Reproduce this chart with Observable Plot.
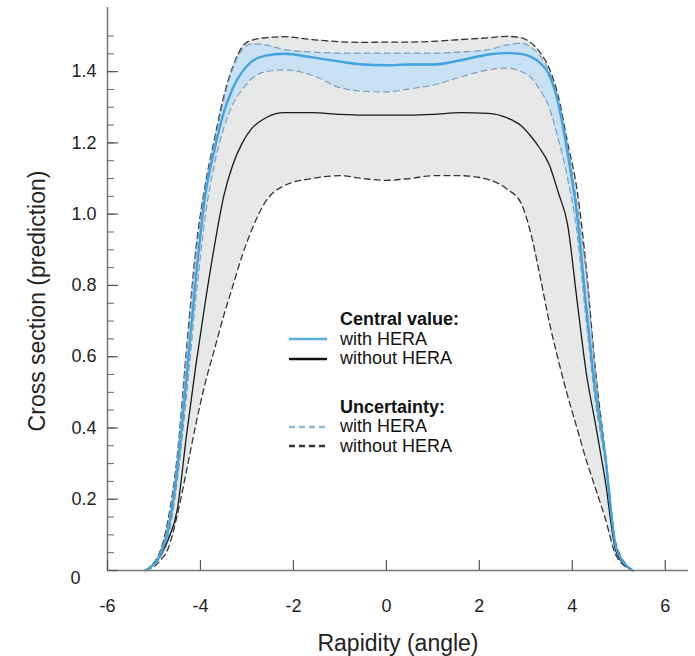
<!DOCTYPE html>
<html><head><meta charset="utf-8">
<script src="https://cdn.jsdelivr.net/npm/d3@7"></script>
<script src="https://cdn.jsdelivr.net/npm/@observablehq/plot@0.6"></script>
<style>
body{margin:0;background:#fff;font-family:"Liberation Sans",Arial,Helvetica,sans-serif;}
#wrap{position:relative;width:695px;height:656px;}
#legend{position:absolute;left:288px;top:310px;font-size:18px;line-height:19.5px;color:#111;}
#legend .row{display:flex;align-items:center;height:19.5px;}
#legend .sw{width:40px;margin-right:12px;display:inline-block;}
#legend .hd{margin-left:52px;font-weight:bold;}
#legend .gap{height:29px;}
</style></head><body><div id="wrap"><div id="legend"></div></div>
<script>
// Rapidity grid (x)
const rapidity = [-5.18, -4.85, -4.7, -4.5, -4.3, -4.1, -3.9, -3.7, -3.5, -3.3, -3.1, -2.9, -2.6, -2.2, -1.6, -1.0, -0.5,
  0,
  0.5, 1.0, 1.6, 2.2, 2.6, 2.9, 3.1, 3.3, 3.5, 3.7, 3.9, 4.1, 4.3, 4.5, 4.7, 4.95, 5.3];

// Central value, with HERA (blue solid)
const centralWithHera = [0, 0.05, 0.11, 0.28, 0.54, 0.82, 1.05, 1.18, 1.285, 1.355, 1.40, 1.428, 1.445, 1.45, 1.44, 1.428, 1.42,
  1.418,
  1.42, 1.42, 1.432, 1.448, 1.452, 1.45, 1.442, 1.425, 1.392, 1.31, 1.17, 1.0, 0.74, 0.50, 0.33, 0.06, 0];

// Central value, without HERA (black solid)
const centralWithoutHera = [0, 0.045, 0.085, 0.17, 0.38, 0.575, 0.75, 0.91, 1.05, 1.14, 1.20, 1.24, 1.27, 1.285, 1.285, 1.28, 1.278,
  1.278,
  1.278, 1.28, 1.285, 1.283, 1.27, 1.248, 1.22, 1.185, 1.14, 1.06, 0.97, 0.76, 0.555, 0.41, 0.26, 0.05, 0];

// Uncertainty, with HERA (blue dashed): upper / lower
const upperWithHera = [0, 0.055, 0.13, 0.31, 0.60, 0.88, 1.07, 1.20, 1.32, 1.41, 1.462, 1.478, 1.475, 1.462, 1.455, 1.452, 1.452,
  1.452,
  1.452, 1.452, 1.455, 1.462, 1.475, 1.48, 1.47, 1.445, 1.40, 1.318, 1.19, 1.03, 0.83, 0.55, 0.335, 0.065, 0];
const lowerWithHera = [0, 0.04, 0.09, 0.25, 0.49, 0.76, 0.99, 1.14, 1.24, 1.31, 1.35, 1.38, 1.40, 1.405, 1.39, 1.355, 1.345,
  1.343,
  1.352, 1.362, 1.385, 1.405, 1.41, 1.40, 1.385, 1.35, 1.30, 1.21, 1.10, 0.95, 0.70, 0.47, 0.31, 0.05, 0];

// Uncertainty, without HERA (black dashed): upper / lower
const upperWithoutHera = [0, 0.06, 0.14, 0.32, 0.62, 0.90, 1.08, 1.21, 1.33, 1.415, 1.47, 1.488, 1.495, 1.498, 1.49, 1.484, 1.482,
  1.483,
  1.483, 1.485, 1.49, 1.495, 1.499, 1.495, 1.482, 1.455, 1.41, 1.33, 1.20, 1.07, 0.85, 0.56, 0.34, 0.07, 0];
const lowerWithoutHera = [0, 0.03, 0.06, 0.155, 0.28, 0.41, 0.525, 0.62, 0.715, 0.80, 0.885, 0.955, 1.035, 1.08, 1.10, 1.108, 1.10,
  1.095,
  1.10, 1.108, 1.108, 1.097, 1.07, 1.03, 0.95, 0.83, 0.70, 0.59, 0.49, 0.40, 0.31, 0.23, 0.15, 0.04, 0];

// Axis ticks
const xTicks = [-6, -4, -2, 0, 2, 4, 6];
const yMajor = [0, 0.2, 0.4, 0.6, 0.8, 1.0, 1.2, 1.4];
const yMinor = d3.range(0, 31).map(i => +(i * 0.05).toFixed(2)).filter(v => v <= 1.56);
const yLabels = ["0.2", "0.4", "0.6", "0.8", "1.0", "1.2", "1.4"];

const xTitle = "Rapidity (angle)";
const yTitle = "Cross section (prediction)";

const rows = rapidity.map((x, i) => ({
  x,
  cw: centralWithHera[i], co: centralWithoutHera[i],
  uw: upperWithHera[i], lw: lowerWithHera[i],
  uo: upperWithoutHera[i], lo: lowerWithoutHera[i]
}));

const W = 695, H = 656, mL = 107, mR = 7, mT = 7, mB = 86;
const plotW = W - mL - mR, plotH = H - mT - mB;
const curve = "monotone-x";
const blue = "#43a2e0", blueFill = "#c9e1f4", greyFill = "#e7e9e9";
const blueDash = "#7f9fb8", blackDash = "#333";

const chart = Plot.plot({
  width: W, height: H,
  marginLeft: mL, marginRight: mR, marginTop: mT, marginBottom: mB,
  x: {domain: [-6, 6.5], axis: null},
  y: {domain: [0, 1.58], axis: null},
  style: {fontFamily: '"Liberation Sans", Arial, Helvetica, sans-serif', fontSize: "18px", color: "#222", background: "#fff"},
  marks: [
    Plot.areaY(rows, {x: "x", y1: "lo", y2: "uo", fill: greyFill, curve}),
    Plot.areaY(rows, {x: "x", y1: "lw", y2: "uw", fill: blueFill, curve}),
    Plot.line(rows, {x: "x", y: "lo", stroke: blackDash, strokeWidth: 1.3, strokeDasharray: "6,4", curve}),
    Plot.line(rows, {x: "x", y: "uo", stroke: blackDash, strokeWidth: 1.3, strokeDasharray: "6,4", curve}),
    Plot.line(rows, {x: "x", y: "lw", stroke: blueDash, strokeWidth: 1.2, strokeDasharray: "6,4", curve}),
    Plot.line(rows, {x: "x", y: "uw", stroke: blueDash, strokeWidth: 1.2, strokeDasharray: "6,4", curve}),
    Plot.line(rows, {x: "x", y: "co", stroke: "#1a1a1a", strokeWidth: 1.3, curve}),
    Plot.line(rows, {x: "x", y: "cw", stroke: blue, strokeWidth: 2.4, curve}),
    // axis lines
    Plot.ruleX([-6], {stroke: "#777", strokeWidth: 1.5}),
    Plot.ruleY([0], {stroke: "#777", strokeWidth: 1.5}),
    // inward ticks
    Plot.tickY(yMinor, {y: d => d, stroke: "#666", insetRight: plotW - 7}),
    Plot.tickY(yMajor, {y: d => d, stroke: "#555", strokeWidth: 1.2, insetRight: plotW - 11}),
    Plot.tickX(xTicks, {x: d => d, stroke: "#555", strokeWidth: 1.2, insetTop: plotH - 10}),
    // tick labels
    Plot.axisY(yMajor.slice(1), {tickSize: 0, tickPadding: 11, tickFormat: (d, i) => yLabels[i], fontSize: 18, label: null}),
    Plot.text(["0"], {frameAnchor: "bottom-left", text: d => d, textAnchor: "end", dx: -27, dy: 13, fontSize: 18}),
    Plot.axisX(xTicks, {tickSize: 0, tickPadding: 29, tickFormat: d => String(d).replace("−", "-"), fontSize: 18, label: null}),
    // axis titles
    Plot.text([xTitle], {frameAnchor: "bottom", text: d => d, textAnchor: "middle", dy: 80, fontSize: 23}),
    Plot.text([yTitle], {frameAnchor: "left", text: d => d, textAnchor: "middle", rotate: -90, dx: -70, dy: 12, fontSize: 23})
  ]
});
document.getElementById("wrap").prepend(chart);

// Legend
const legendCentral = {title: "Central value:", items: [["with HERA", "#5aaee2", null], ["without HERA", "#111", null]]};
const legendUnc = {title: "Uncertainty:", items: [["with HERA", "#8fb7d6", "6,4"], ["without HERA", "#333", "6,4"]]};
const lg = document.getElementById("legend");
function block(b) {
  const hd = document.createElement("div"); hd.className = "row";
  const t = document.createElement("span"); t.className = "hd"; t.textContent = b.title; hd.appendChild(t); lg.appendChild(hd);
  for (const [label, color, dash] of b.items) {
    const r = document.createElement("div"); r.className = "row";
    r.innerHTML = `<svg class="sw" width="40" height="10"><line x1="1" x2="39" y1="5" y2="5" stroke="${color}" stroke-width="2.4" ${dash ? `stroke-dasharray="${dash}"` : ""}/></svg><span>${label}</span>`;
    lg.appendChild(r);
  }
}
block(legendCentral);
const gap = document.createElement("div"); gap.className = "gap"; lg.appendChild(gap);
block(legendUnc);
</script>
</body></html>
